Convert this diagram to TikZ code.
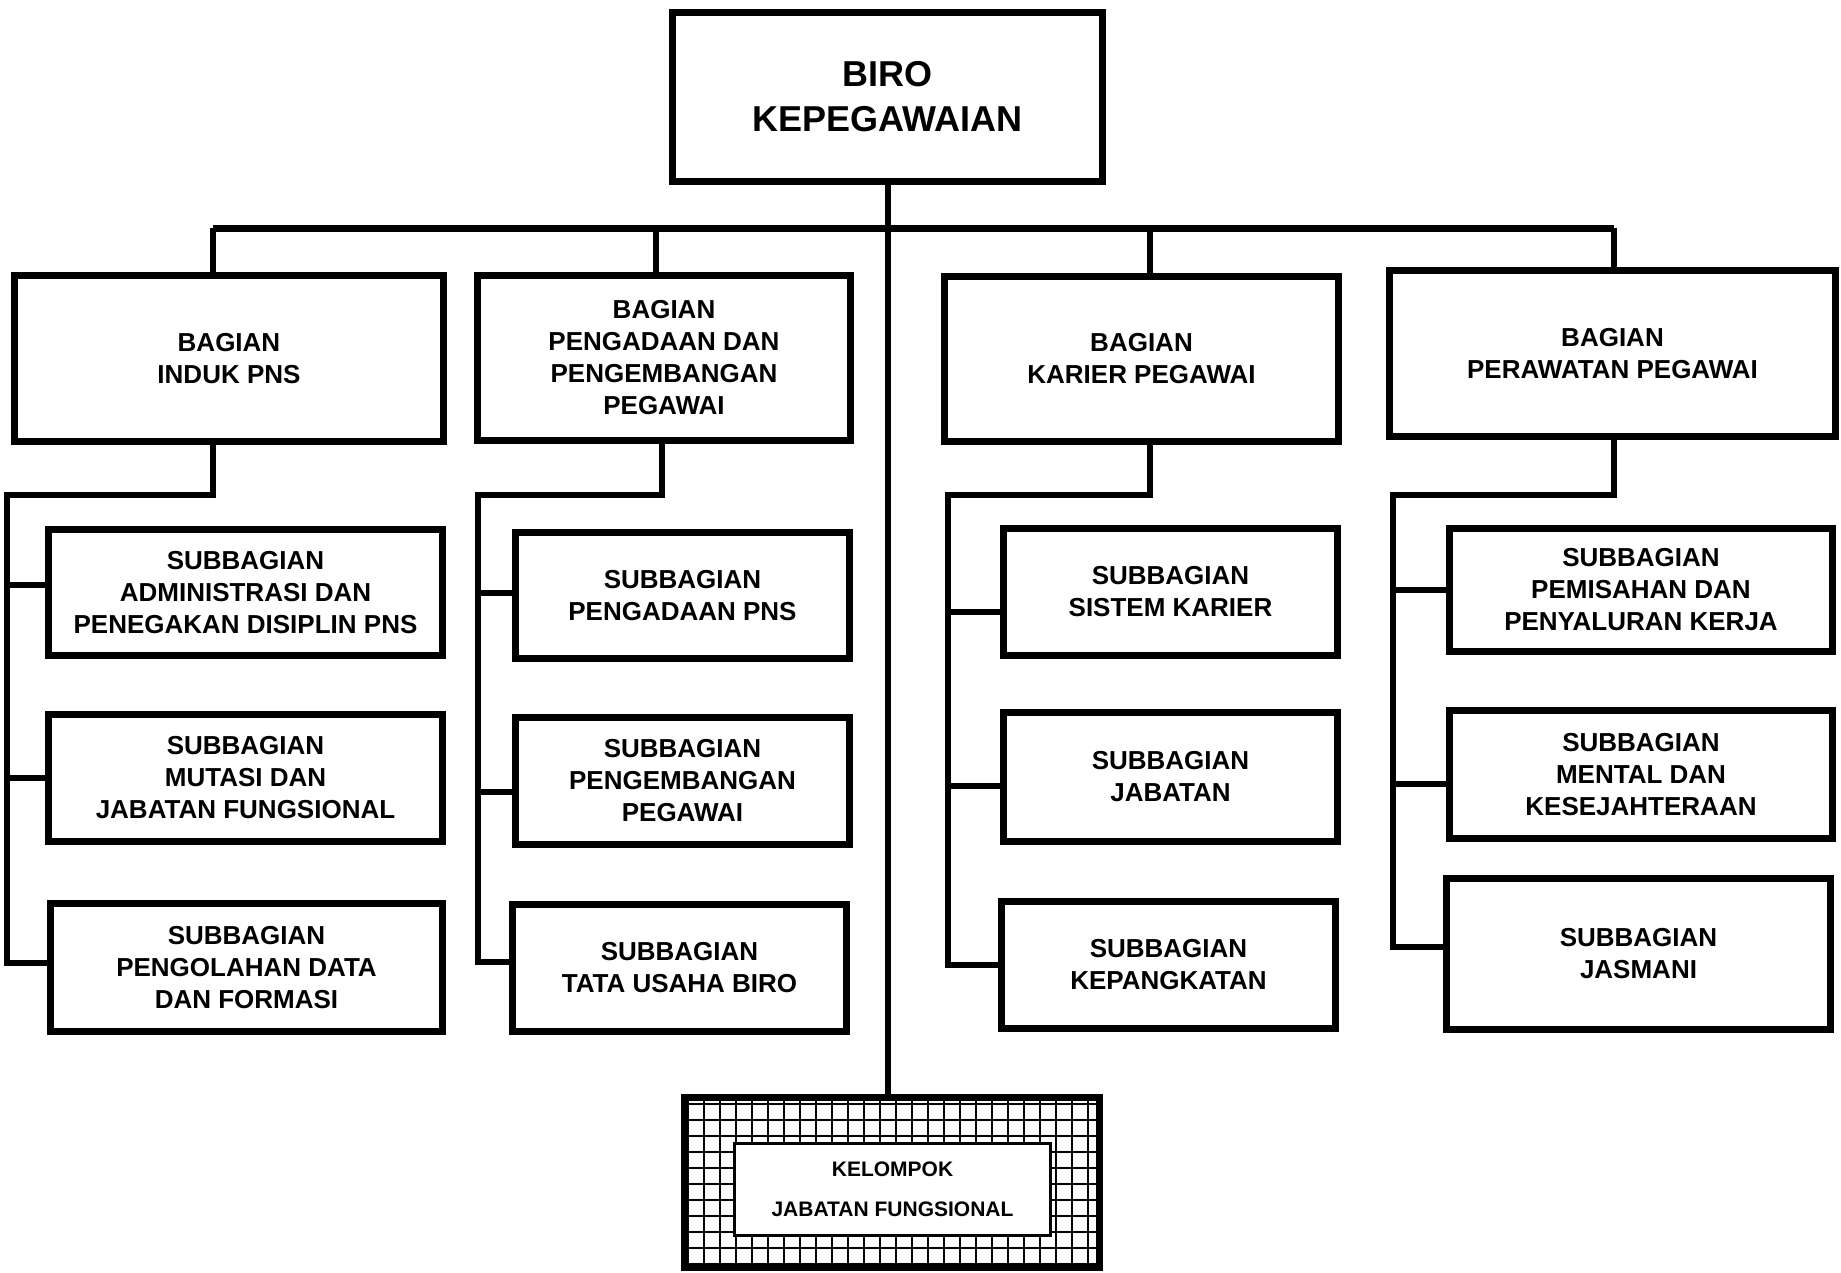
\documentclass[tikz,border=0pt]{standalone}
\usepackage{fontspec}
\setmainfont{Liberation Sans}
\begin{document}
\begin{tikzpicture}[x=1pt,y=-1pt,
	unit/.style={draw,line width=7pt,inner sep=0pt,align=center,font=\fontsize{26}{32}\selectfont\bfseries},
	link/.style={line width=6pt}]
	\useasboundingbox (0,0) rectangle (1841,1272);
	% kepala biro
	\node[unit,minimum width=430pt,minimum height=169pt,font=\fontsize{36}{45}\selectfont\bfseries] (biro) at (887.5,97) {BIRO\\KEPEGAWAIAN};
	% bagian
	\node[unit,minimum width=429pt,minimum height=166pt] (b1) at (229,358.5) {BAGIAN\\INDUK PNS};
	\node[unit,minimum width=373pt,minimum height=165pt] (b2) at (664,358) {BAGIAN\\PENGADAAN DAN\\PENGEMBANGAN\\PEGAWAI};
	\node[unit,minimum width=394pt,minimum height=165pt] (b3) at (1141.5,359) {BAGIAN\\KARIER PEGAWAI};
	\node[unit,minimum width=446pt,minimum height=166pt] (b4) at (1612.5,353.5) {BAGIAN\\PERAWATAN PEGAWAI};
	% subbagian
	\node[unit,minimum width=394pt,minimum height=126pt] (s11) at (245.5,592.5) {SUBBAGIAN\\ADMINISTRASI DAN\\PENEGAKAN DISIPLIN PNS};
	\node[unit,minimum width=394pt,minimum height=127pt] (s12) at (245.5,778) {SUBBAGIAN\\MUTASI DAN\\JABATAN FUNGSIONAL};
	\node[unit,minimum width=392pt,minimum height=128pt] (s13) at (246.5,967.5) {SUBBAGIAN\\PENGOLAHAN DATA\\DAN FORMASI};
	\node[unit,minimum width=334pt,minimum height=126pt] (s21) at (682.5,595.5) {SUBBAGIAN\\PENGADAAN PNS};
	\node[unit,minimum width=334pt,minimum height=127pt] (s22) at (682.5,781) {SUBBAGIAN\\PENGEMBANGAN\\PEGAWAI};
	\node[unit,minimum width=334pt,minimum height=127pt] (s23) at (679.5,968) {SUBBAGIAN\\TATA USAHA BIRO};
	\node[unit,minimum width=334pt,minimum height=127pt] (s31) at (1170.5,592) {SUBBAGIAN\\SISTEM KARIER};
	\node[unit,minimum width=334pt,minimum height=129pt] (s32) at (1170.5,777) {SUBBAGIAN\\JABATAN};
	\node[unit,minimum width=334pt,minimum height=127pt] (s33) at (1168.5,965) {SUBBAGIAN\\KEPANGKATAN};
	\node[unit,minimum width=383pt,minimum height=123pt] (s41) at (1641,590) {SUBBAGIAN\\PEMISAHAN DAN\\PENYALURAN KERJA};
	\node[unit,minimum width=383pt,minimum height=128pt] (s42) at (1641,774.5) {SUBBAGIAN\\MENTAL DAN\\KESEJAHTERAAN};
	\node[unit,minimum width=384pt,minimum height=151pt] (s43) at (1638.5,954) {SUBBAGIAN\\JASMANI};
	% kelompok jabatan fungsional
	\node[unit,minimum width=415pt,minimum height=170pt] (kel) at (892,1182.5) {};
	\begin{scope}
		\clip ([shift={(7pt,7pt)}]kel.south west) rectangle ([shift={(-7pt,-7pt)}]kel.north east);
		\draw[line width=1.3pt,step=16pt] (kel.south west) grid (kel.north east);
	\end{scope}
	\node[draw,fill=white,line width=3pt,inner sep=0pt,minimum width=316pt,minimum height=92pt,align=center,font=\fontsize{21}{40}\selectfont\bfseries] (kelin) at (892.5,1189.5) {KELOMPOK\\JABATAN FUNGSIONAL};
	% garis
	\coordinate (j1) at (213,228);
	\coordinate (j2) at (656,228);
	\coordinate (j3) at (1150,228);
	\coordinate (j4) at (1614,228);
	\coordinate (k1) at (213,495);  \coordinate (c1) at (7,495);
	\coordinate (k2) at (662,495);  \coordinate (c2) at (478,495);
	\coordinate (k3) at (1150,495); \coordinate (c3) at (948,495);
	\coordinate (k4) at (1614,495); \coordinate (c4) at (1393,495);
	\draw[link] (biro.south) -- (biro.south |- kel.north);
	\draw[link,line width=7pt] (j1) -- (j4);
	\draw[link] (j1) -- (j1 |- b1.north) (j2) -- (j2 |- b2.north) (j3) -- (j3 |- b3.north) (j4) -- (j4 |- b4.north);
	\draw[link] (k1 |- b1.south) -- (k1) -- (c1) |- ([yshift=5pt]s13.west);
	\draw[link] (k2 |- b2.south) -- (k2) -- (c2) |- ([yshift=6pt]s23.west);
	\draw[link] (k3 |- b3.south) -- (k3) -- (c3) |- (s33.west);
	\draw[link] (k4 |- b4.south) -- (k4) -- (c4) |- ([yshift=7pt]s43.west);
	\draw[link] ([yshift=8pt]s11.west) -- ([yshift=8pt]s11.west -| c1) (s12.west) -- (s12.west -| c1);
	\draw[link] ([yshift=3pt]s21.west) -- ([yshift=3pt]s21.west -| c2) ([yshift=-11pt]s22.west) -- ([yshift=-11pt]s22.west -| c2);
	\draw[link] ([yshift=-20pt]s31.west) -- ([yshift=-20pt]s31.west -| c3) ([yshift=-9pt]s32.west) -- ([yshift=-9pt]s32.west -| c3);
	\draw[link] (s41.west) -- (s41.west -| c4) ([yshift=-9pt]s42.west) -- ([yshift=-9pt]s42.west -| c4);
\end{tikzpicture}
\end{document}
